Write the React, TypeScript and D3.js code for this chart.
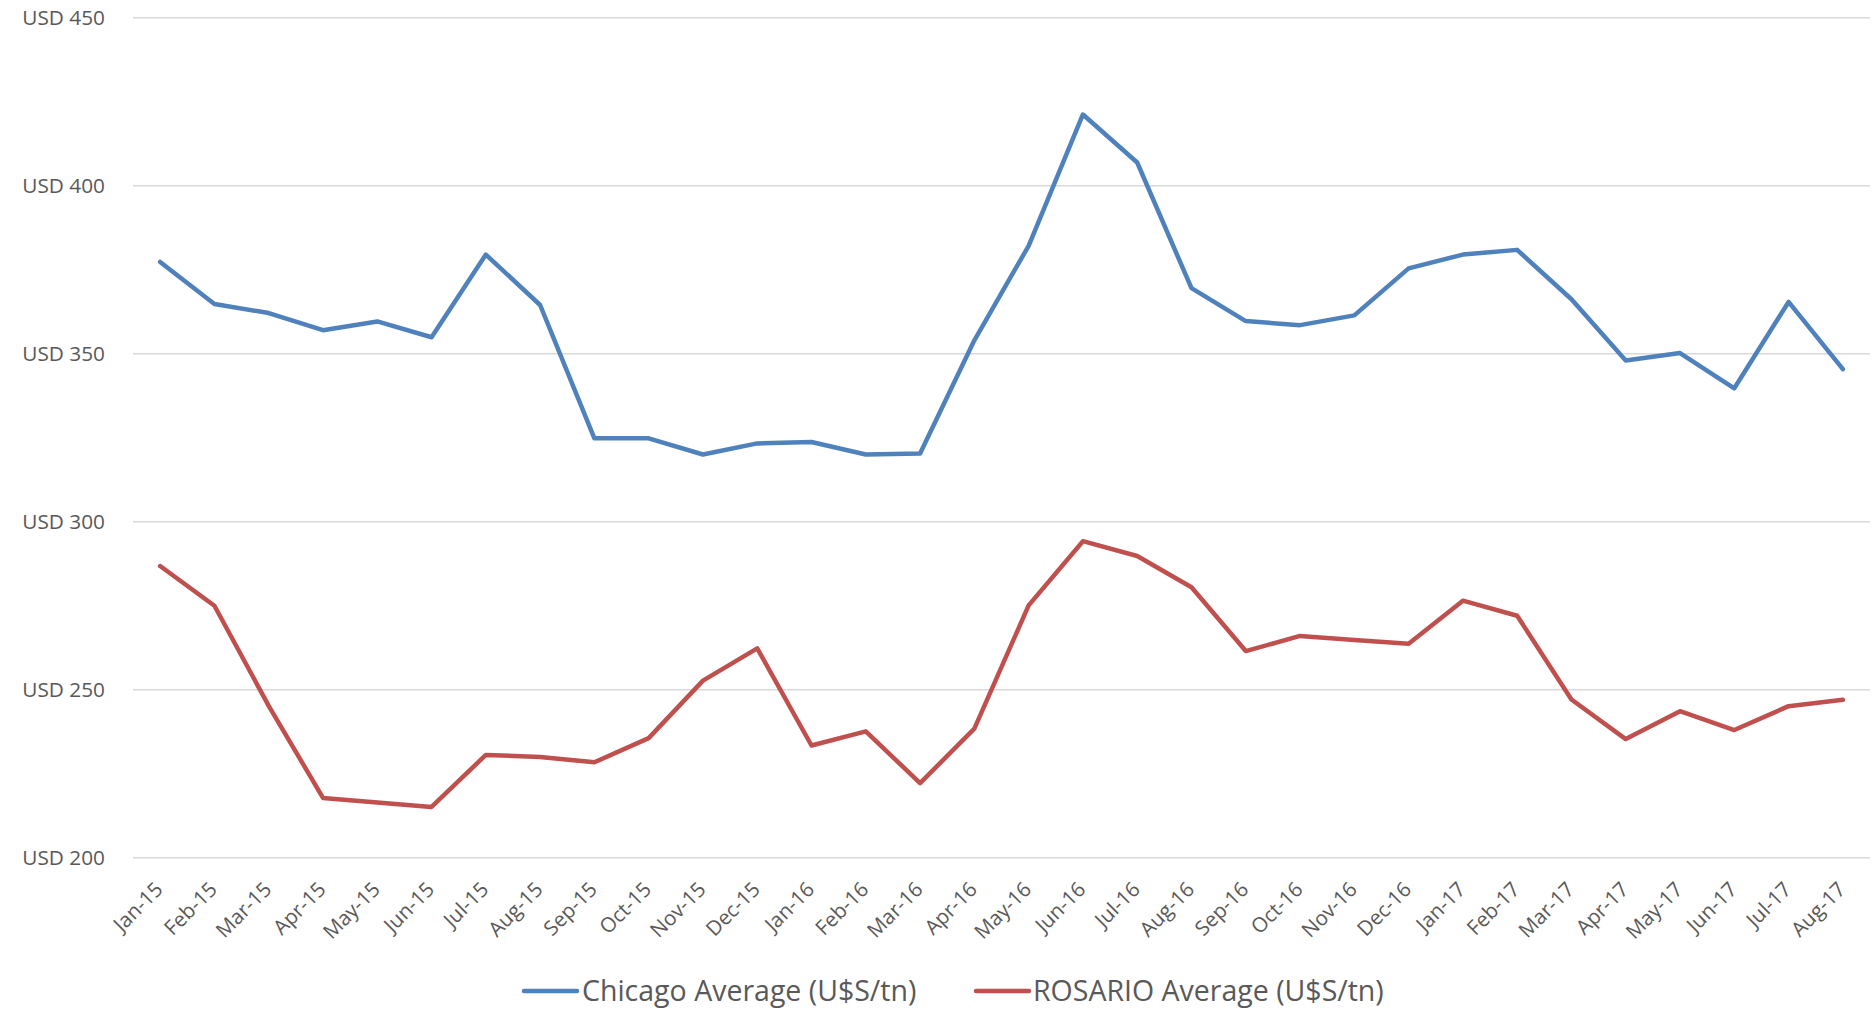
import React from "react";
import * as d3 from "d3";

const categories = [
  "Jan-15", "Feb-15", "Mar-15", "Apr-15", "May-15", "Jun-15", "Jul-15", "Aug-15",
  "Sep-15", "Oct-15", "Nov-15", "Dec-15", "Jan-16", "Feb-16", "Mar-16", "Apr-16",
  "May-16", "Jun-16", "Jul-16", "Aug-16", "Sep-16", "Oct-16", "Nov-16", "Dec-16",
  "Jan-17", "Feb-17", "Mar-17", "Apr-17", "May-17", "Jun-17", "Jul-17", "Aug-17",
];

const chicago = [
  377.3, 364.8, 362.1, 357.0, 359.6, 354.9, 379.5, 364.5,
  324.8, 324.8, 320.0, 323.3, 323.7, 320.0, 320.3, 354.0,
  382.1, 421.2, 406.9, 369.5, 359.7, 358.5, 361.4, 375.4,
  379.5, 380.9, 366.2, 348.0, 350.2, 339.7, 365.4, 345.4,
];

const rosario = [
  286.8, 275.0, 245.2, 217.8, 216.4, 215.1, 230.6, 230.0,
  228.4, 235.6, 252.7, 262.3, 233.4, 237.6, 222.2, 238.4,
  275.1, 294.2, 289.8, 280.5, 261.5, 266.0, 264.8, 263.7,
  276.5, 272.0, 247.1, 235.3, 243.6, 238.0, 245.1, 247.0,
];

const yTicks = [200, 250, 300, 350, 400, 450];

const seriesNames = ["Chicago Average (U$S/tn)", "ROSARIO Average (U$S/tn)"];
const seriesColors = ["#4F81BD", "#C0504D"];

export default function App() {
  const W = 1872;
  const H = 1016;
  const left = 133;
  const right = 1870;
  const top = 17.7;
  const bottom = 857.7;

  const x = d3.scalePoint<string>().domain(categories).range([left, right]).padding(0.5);
  const y = d3.scaleLinear().domain([200, 450]).range([bottom, top]);

  const line = d3
    .line<number>()
    .x((_, i) => x(categories[i]) as number)
    .y((d) => y(d));

  const series = [chicago, rosario];
  const textColor = "#595959";
  const font = "'Open Sans', 'Noto Sans', sans-serif";

  const legendItems = [
    { lineX: 524, textX: 582 },
    { lineX: 976, textX: 1033 },
  ];
  const legendY = 991;

  return (
    <svg
      width={W}
      height={H}
      style={{ position: "absolute", left: 0, top: 0, background: "#fff" }}
      fontFamily={font}
    >
      <rect x={0} y={0} width={W} height={H} fill="#fff" />
      {yTicks.map((t) => (
        <g key={t}>
          <line x1={left} x2={right} y1={y(t)} y2={y(t)} stroke="#D9D9D9" strokeWidth={1.4} />
          <text
            x={105}
            y={y(t)}
            dy="0.36em"
            textAnchor="end"
            fontSize={20.8}
            fill={textColor}
          >
            {"USD " + t}
          </text>
        </g>
      ))}
      {categories.map((c) => (
        <text
          key={c}
          transform={`translate(${(x(c) as number) + 4},${bottom + 33}) rotate(-45)`}
          textAnchor="end"
          fontSize={20.5}
          fill={textColor}
        >
          {c}
        </text>
      ))}
      {series.map((s, i) => (
        <path
          key={i}
          d={line(s) || ""}
          fill="none"
          stroke={seriesColors[i]}
          strokeWidth={4.5}
          strokeLinejoin="round"
          strokeLinecap="round"
        />
      ))}
      {legendItems.map((li, i) => (
        <g key={i}>
          <line
            x1={li.lineX}
            x2={li.lineX + 53}
            y1={legendY}
            y2={legendY}
            stroke={seriesColors[i]}
            strokeWidth={4.5}
            strokeLinecap="round"
          />
          <text x={li.textX} y={legendY} dy="0.36em" fontSize={28.5} fill={textColor}>
            {seriesNames[i]}
          </text>
        </g>
      ))}
    </svg>
  );
}
